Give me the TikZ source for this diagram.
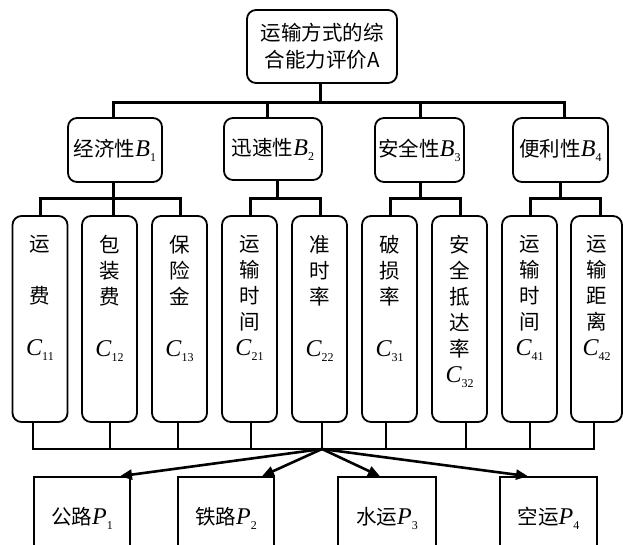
\documentclass[tikz,border=0pt]{standalone}
\usepackage{fontspec}
\newfontfamily\cjk{Noto Sans CJK SC}
\newfontfamily\tnr{Liberation Serif}
\newcommand\myvar[2]{{\tnr\itshape\fontsize{24}{24}\selectfont #1}\raisebox{-5pt}{\tnr\fontsize{12}{12}\selectfont #2}}
\usetikzlibrary{arrows.meta}
\begin{document}
\begin{tikzpicture}[x=1pt,y=-1pt,
 rbox/.style={draw,line width=1.8pt,rounded corners=9pt,inner sep=0pt,align=center,font=\cjk\fontsize{20.5}{27}\selectfont},
 pbox/.style={draw,line width=1.6pt,inner sep=0pt,font=\cjk\fontsize{20.5}{24}\selectfont},
 ctext/.style={inner sep=0pt,anchor=north,align=center,font=\cjk\fontsize{20.5}{26}\selectfont},
 tree/.style={line width=3pt},
 thinline/.style={line width=1.3pt},
 arr/.style={line width=2.6pt,-{Triangle[length=12pt,width=10pt]}}]
\useasboundingbox (0,0) rectangle (623,544);
% top
\node[rbox,minimum width=150pt,minimum height=73pt] (A) at (322,46.5) {运输方式的综\\合能力评价A};
% B level
\node[rbox,minimum width=94pt,minimum height=64pt] (B1) at (115,150) {经济性\myvar{B}{1}};
\node[rbox,minimum width=98pt,minimum height=62pt] (B2) at (273,149) {迅速性\myvar{B}{2}};
\node[rbox,minimum width=89pt,minimum height=64pt] (B3) at (419.5,150) {安全性\myvar{B}{3}};
\node[rbox,minimum width=95pt,minimum height=64pt] (B4) at (560.5,150) {便利性\myvar{B}{4}};
% C level boxes
\foreach \n/\cx/\w in {C11/40/55,C12/109.5/55,C13/179.5/55,C21/249.5/55,C22/319.5/55,C31/389.5/55,C32/459.5/55,C41/529.5/55,C42/596.5/51}
  \node[draw,line width=1.8pt,rounded corners=9pt,minimum width=\w pt,minimum height=206pt,inner sep=0pt] (\n) at (\cx,319) {};
% C texts
\node[ctext] (t11) at (C11.center |- 0,235) {运\\~\\费\\~\\\myvar{C}{11}};
\node[ctext] (t12) at (C12.center |- 0,235) {包\\装\\费\\~\\\myvar{C}{12}};
\node[ctext] (t13) at (C13.center |- 0,235) {保\\险\\金\\~\\\myvar{C}{13}};
\node[ctext] (t21) at (C21.center |- 0,235) {运\\输\\时\\间\\\myvar{C}{21}};
\node[ctext] (t22) at (C22.center |- 0,235) {准\\时\\率\\~\\\myvar{C}{22}};
\node[ctext] (t31) at (C31.center |- 0,235) {破\\损\\率\\~\\\myvar{C}{31}};
\node[ctext] (t32) at (C32.center |- 0,235) {安\\全\\抵\\达\\率\\\myvar{C}{32}};
\node[ctext] (t41) at (C41.center |- 0,235) {运\\输\\时\\间\\\myvar{C}{41}};
\node[ctext] (t42) at (C42.center |- 0,235) {运\\输\\距\\离\\\myvar{C}{42}};
% P level
\node[pbox,minimum width=96pt,minimum height=83pt] (P1) at (82,518.5) {公路\myvar{P}{1}};
\node[pbox,minimum width=96pt,minimum height=83pt] (P2) at (226,518.5) {铁路\myvar{P}{2}};
\node[pbox,minimum width=98pt,minimum height=83pt] (P3) at (387,518.5) {水运\myvar{P}{3}};
\node[pbox,minimum width=97pt,minimum height=83pt] (P4) at (548.5,518.5) {空运\myvar{P}{4}};
% tree A -> B
\coordinate (a0) at (320,102);
\coordinate (b1) at (113,102);
\coordinate (b2) at (267,102);
\coordinate (b3) at (420,102);
\coordinate (b4) at (564,102);
\draw[tree] (A.south -| a0) -- (a0);
\draw[tree] (B1.north -| b1) -- (b1) -- (b4) -- (B4.north -| b4);
\draw[tree] (b2) -- (B2.north -| b2);
\draw[tree] (b3) -- (B3.north -| b3);
% B -> C brackets
\coordinate (s1) at (113,198);
\coordinate (s2) at (277,198);
\coordinate (s3) at (420,198);
\coordinate (s4) at (560,198);
\coordinate (k11) at (40,198);  \coordinate (k12) at (113,198); \coordinate (k13) at (180,198);
\coordinate (k21) at (250,198); \coordinate (k22) at (320,198);
\coordinate (k31) at (390,198); \coordinate (k32) at (460,198);
\coordinate (k41) at (530,198); \coordinate (k42) at (600,198);
\draw[tree] (B1.south -| s1) -- (s1);
\draw[tree] (C11.north -| k11) -- (k11) -- (k13) -- (C13.north -| k13);
\draw[tree] (k12) -- (C12.north -| k12);
\draw[tree] (B2.south -| s2) -- (s2);
\draw[tree] (C21.north -| k21) -- (k21) -- (k22) -- (C22.north -| k22);
\draw[tree] (B3.south -| s3) -- (s3);
\draw[tree] (C31.north -| k31) -- (k31) -- (k32) -- (C32.north -| k32);
\draw[tree] (B4.south -| s4) -- (s4);
\draw[tree] (C41.north -| k41) -- (k41) -- (k42) -- (C42.north -| k42);
% C -> bottom bus
\coordinate (hub) at (322,449);
\foreach \n/\x in {C11/33,C12/110,C13/178,C21/251,C22/322,C31/386,C32/466,C41/530,C42/594}
  \coordinate (u\n) at (\x,449);
\draw[thinline] (C11.south -| uC11) -- (uC11) -- (uC42) -- (C42.south -| uC42);
\foreach \n in {C12,C13,C21,C22,C31,C32,C41}
  \draw[thinline] (\n.south -| u\n) -- (u\n);
% arrows to P
\coordinate (e1) at (120,477);
\coordinate (e2) at (262,477);
\coordinate (e3) at (380,477);
\coordinate (e4) at (528,477);
\draw[arr] (hub) -- (P1.north -| e1);
\draw[arr] (hub) -- (P2.north -| e2);
\draw[arr] (hub) -- (P3.north -| e3);
\draw[arr] (hub) -- (P4.north -| e4);
\end{tikzpicture}
\end{document}
